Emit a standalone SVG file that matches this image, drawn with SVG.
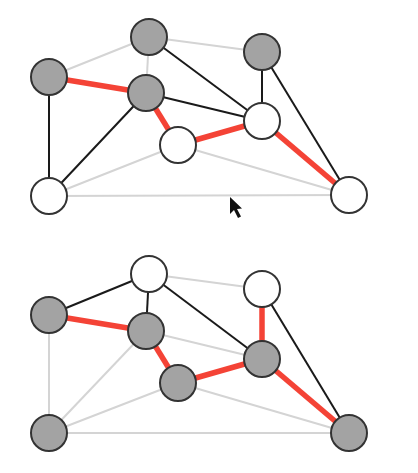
<svg xmlns="http://www.w3.org/2000/svg" width="418" height="473" viewBox="0 0 418 473">
<style>
.n{stroke:#333;stroke-width:2}
.g{fill:#a3a3a3}
.w{fill:#fff}
.k{stroke:#1a1a1a;stroke-width:2;fill:none}
.l{stroke:#d4d4d4;stroke-width:2;fill:none}
.r{stroke:#f44336;stroke-width:5.5;fill:none}
</style>
<rect width="418" height="473" fill="#fff"/>
<g id="connectors">
<line class="l" x1="49" y1="77" x2="149" y2="37"/>
<line class="l" x1="149" y1="37" x2="262" y2="52"/>
<line class="l" x1="149" y1="37" x2="146" y2="93"/>
<line class="l" x1="49" y1="196" x2="178" y2="145"/>
<line class="l" x1="49" y1="196" x2="349" y2="195"/>
<line class="l" x1="178" y1="145" x2="349" y2="195"/>
<line class="k" x1="49" y1="77" x2="49" y2="196"/>
<line class="k" x1="149" y1="37" x2="262" y2="121"/>
<line class="k" x1="146" y1="93" x2="262" y2="121"/>
<line class="k" x1="146" y1="93" x2="49" y2="196"/>
<line class="k" x1="262" y1="52" x2="262" y2="121"/>
<line class="k" x1="262" y1="52" x2="349" y2="195"/>
<line class="r" x1="49" y1="77" x2="146" y2="93"/>
<line class="r" x1="146" y1="93" x2="178" y2="145"/>
<line class="r" x1="178" y1="145" x2="262" y2="121"/>
<line class="r" x1="262" y1="121" x2="349" y2="195"/>

<line class="l" x1="149" y1="274" x2="262" y2="289"/>
<line class="l" x1="49" y1="315" x2="49" y2="433"/>
<line class="l" x1="49" y1="433" x2="146" y2="331"/>
<line class="l" x1="49" y1="433" x2="178" y2="383"/>
<line class="l" x1="49" y1="433" x2="349" y2="433"/>
<line class="l" x1="178" y1="383" x2="349" y2="433"/>
<line class="l" x1="146" y1="331" x2="262" y2="359"/>
<line class="k" x1="49" y1="315" x2="149" y2="274"/>
<line class="k" x1="149" y1="274" x2="146" y2="331"/>
<line class="k" x1="149" y1="274" x2="262" y2="359"/>
<line class="k" x1="262" y1="289" x2="349" y2="433"/>
<line class="r" x1="49" y1="315" x2="146" y2="331"/>
<line class="r" x1="146" y1="331" x2="178" y2="383"/>
<line class="r" x1="178" y1="383" x2="262" y2="359"/>
<line class="r" x1="262" y1="359" x2="349" y2="433"/>
<line class="r" x1="262" y1="289" x2="262" y2="359"/>
</g>
<g id="t-a"><circle class="n g" cx="49" cy="77" r="18"/></g>
<g id="t-b"><circle class="n g" cx="149" cy="37" r="18"/></g>
<g id="t-c"><circle class="n g" cx="262" cy="52" r="18"/></g>
<g id="t-d"><circle class="n g" cx="146" cy="93" r="18"/></g>
<g id="t-e"><circle class="n w" cx="178" cy="145" r="18"/></g>
<g id="t-f"><circle class="n w" cx="262" cy="121" r="18"/></g>
<g id="t-g"><circle class="n w" cx="49" cy="196" r="18"/></g>
<g id="t-h"><circle class="n w" cx="349" cy="195" r="18"/></g>

<g id="b-a"><circle class="n g" cx="49" cy="315" r="18"/></g>
<g id="b-b"><circle class="n w" cx="149" cy="274" r="18"/></g>
<g id="b-c"><circle class="n w" cx="262" cy="289" r="18"/></g>
<g id="b-d"><circle class="n g" cx="146" cy="331" r="18"/></g>
<g id="b-e"><circle class="n g" cx="178" cy="383" r="18"/></g>
<g id="b-f"><circle class="n g" cx="262" cy="359" r="18"/></g>
<g id="b-g"><circle class="n g" cx="49" cy="433" r="18"/></g>
<g id="b-h"><circle class="n g" cx="349" cy="433" r="18"/></g>

<g id="cursor"><polygon points="230,197 230,214 234,210 238,218 241,216.5 237,209 242,208.5" fill="#111"/></g>
</svg>
